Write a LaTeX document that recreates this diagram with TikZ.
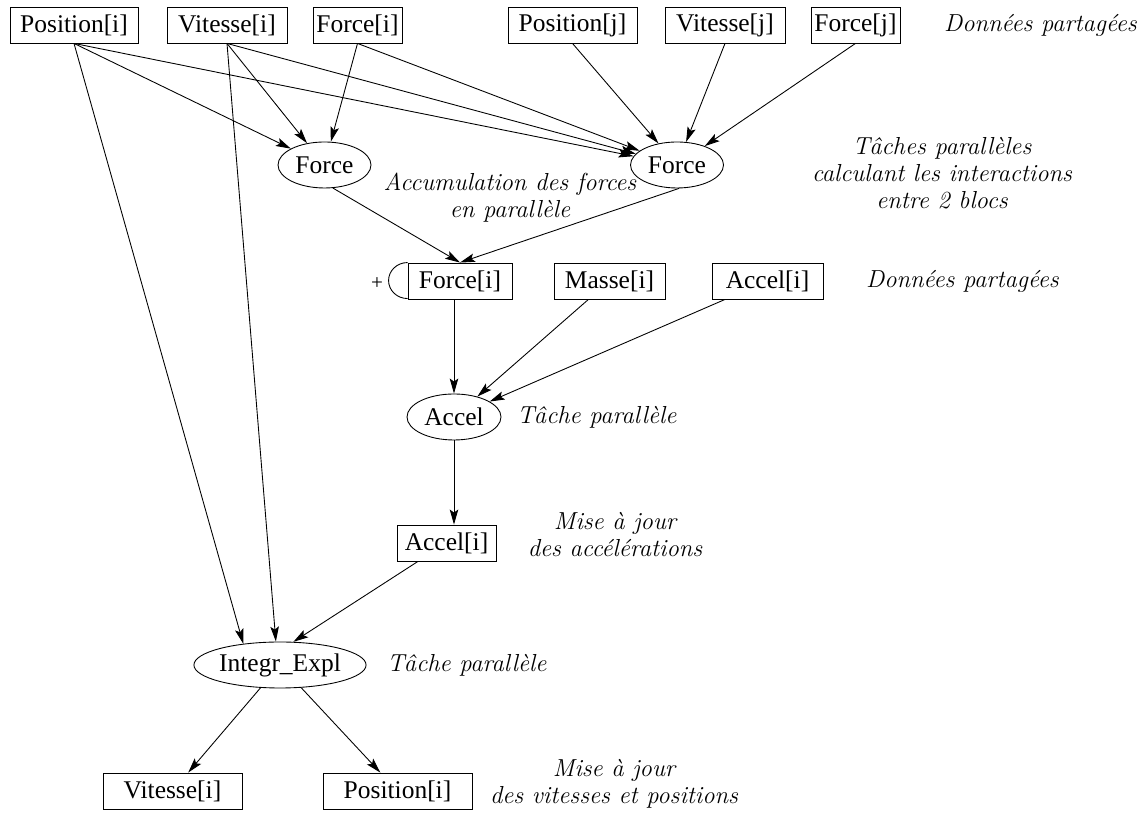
\documentclass[tikz,border=0pt]{standalone}
\usepackage{fontspec}
\newfontfamily\boxfont{Liberation Serif}
\usepackage{tikz}
\usetikzlibrary{shapes.geometric, arrows.meta, positioning}

\begin{document}
\begin{tikzpicture}[
    box/.style={rectangle, draw=black, line width=0.5pt, align=center, inner sep=2pt, font=\boxfont\fontsize{14.5}{17}\selectfont, minimum height=0.72cm},
    task/.style={ellipse, draw=black, line width=0.5pt, inner sep=0pt, font=\boxfont\fontsize{14.5}{17}\selectfont, minimum height=0.92cm},
    note/.style={align=center, font=\fontsize{14}{15.3}\selectfont\itshape\addfontfeatures{LetterSpace=6}},
    arr/.style={-{Stealth[length=3mm, width=1.7mm, inset=0.6mm]}, line width=0.5pt}
]
    \useasboundingbox (0,0) rectangle (22.86,16.26);

    % Données partagées : blocs i et j
    \node[box, minimum width=2.56cm] (posI) at (1.48, 15.76) {Position[i]};
    \node[box, minimum width=2.40cm] (vitI) at (4.54, 15.76) {Vitesse[i]};
    \node[box, minimum width=1.70cm] (forI) at (7.15, 15.76) {Force[i]};
    \node[box, minimum width=2.58cm] (posJ) at (11.45, 15.76) {Position[j]};
    \node[box, minimum width=2.40cm] (vitJ) at (14.50, 15.76) {Vitesse[j]};
    \node[box, minimum width=1.70cm] (forJ) at (17.11, 15.76) {Force[j]};
    \node[note, anchor=west] (shared1) at (18.76, 15.76) {Données partagées};

    % Tâches Force
    \node[task, minimum width=1.86cm] (force1) at (6.49, 12.96) {Force};
    \node[task, minimum width=1.86cm] (force2) at (13.54, 12.96) {Force};
    \node[note] (accum) at (10.20, 12.31) {Accumulation des forces\\en parallèle};
    \node[note] (interact) at (18.84, 12.80) {Tâches parallèles\\calculant les interactions\\entre 2 blocs};

    \draw[arr] (posI.south) -- (force1);
    \draw[arr] (posI.south) -- (force2);
    \draw[arr] (vitI.south) -- (force1);
    \draw[arr] (vitI.south) -- (force2);
    \draw[arr] (forI.south) -- (force1);
    \draw[arr] (forI.south) -- (force2);
    \draw[arr] (posJ.south) -- (force2);
    \draw[arr] (vitJ.south) -- (force2);
    \draw[arr] (forJ.south) -- (force2);

    % Force[i] accumulée, Masse[i], Accel[i]
    \node[box, minimum width=2.08cm] (forAcc) at (9.20, 10.64) {Force[i]};
    \draw[line width=0.5pt] (forAcc.north west) arc[start angle=90, end angle=270, x radius=0.38cm, y radius=0.36cm];
    \node[font=\boxfont\fontsize{12}{14}\selectfont] (plus) at (7.54, 10.58) {+};
    \node[box, minimum width=2.22cm] (masse) at (12.19, 10.64) {Masse[i]};
    \node[box, minimum width=2.22cm] (accI) at (15.35, 10.64) {Accel[i]};
    \node[note, anchor=west] (shared2) at (17.20, 10.64) {Données partagées};

    \draw[arr] (force1.-70) -- (forAcc.north);
    \draw[arr] (force2.-85) -- (forAcc.north);

    % Tâche Accel
    \node[task, minimum width=1.88cm] (accel) at (9.08, 7.92) {Accel};
    \node[note, anchor=west] (task1) at (10.22, 7.92) {Tâche parallèle};

    \draw[arr] (accel.north |- forAcc.south) -- (accel.north);
    \draw[arr] (masse) -- (accel);
    \draw[arr] (accI) -- (accel);

    \node[box, minimum width=1.98cm] (accNew) at (8.93, 5.40) {Accel[i]};
    \node[note] (majAcc) at (12.30, 5.56) {Mise à jour\\des accélérations};
    \draw[arr] (accel.south) -- (accel.south |- accNew.north);

    % Tâche Integr_Expl
    \node[task, minimum width=2.9cm] (integr) at (5.60, 2.96) {Integr\_Expl};
    \node[note, anchor=west] (task2) at (7.62, 2.96) {Tâche parallèle};

    \draw[arr] (posI.south) -- (integr.150);
    \draw[arr] (vitI.south) -- (integr.100);
    \draw[arr] (accNew) -- (integr.60);

    \node[box, minimum width=2.78cm] (vitNew) at (3.45, 0.44) {Vitesse[i]};
    \node[box, minimum width=2.98cm] (posNew) at (7.95, 0.44) {Position[i]};
    \node[note] (majPos) at (12.28, 0.58) {Mise à jour\\des vitesses et positions};

    \draw[arr] (integr) -- (vitNew);
    \draw[arr] (integr) -- (posNew);
\end{tikzpicture}
\end{document}
